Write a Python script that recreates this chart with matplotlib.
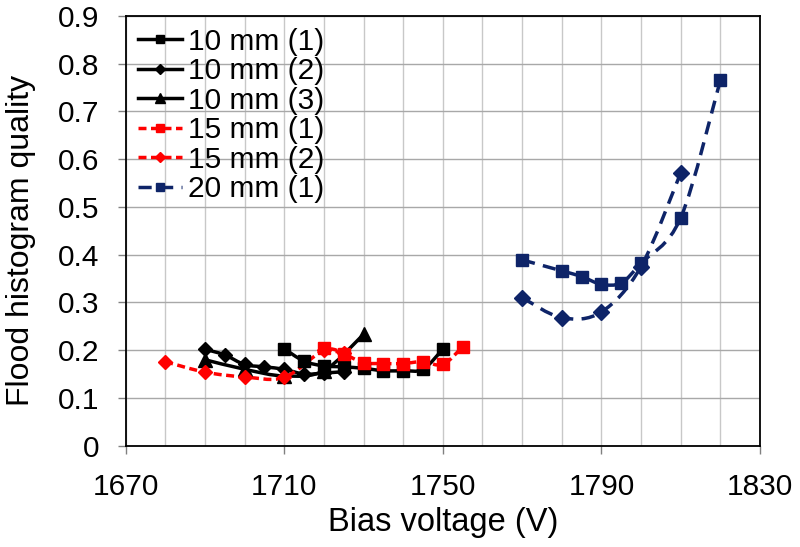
import matplotlib
matplotlib.use("Agg")
import matplotlib.pyplot as plt
import numpy as np
from matplotlib.path import Path
from matplotlib.patches import PathPatch
from matplotlib.lines import Line2D

plt.rcParams['font.family'] = ['Liberation Sans', 'DejaVu Sans']

# ---- data ----
v_10mm_1 = [1710, 1715, 1720, 1725, 1730, 1735, 1740, 1745, 1750]
q_10mm_1 = [0.203, 0.177, 0.167, 0.165, 0.162, 0.157, 0.157, 0.160, 0.202]

v_10mm_2 = [1690, 1695, 1700, 1705, 1710, 1715, 1720, 1725]
q_10mm_2 = [0.202, 0.190, 0.170, 0.165, 0.160, 0.150, 0.152, 0.155]

v_10mm_3 = [1690, 1700, 1710, 1720, 1730]
q_10mm_3 = [0.180, 0.160, 0.146, 0.157, 0.233]

v_15mm_1 = [1720, 1725, 1730, 1735, 1740, 1745, 1750, 1755]
q_15mm_1 = [0.205, 0.192, 0.174, 0.172, 0.172, 0.176, 0.170, 0.207]

v_15mm_2 = [1680, 1690, 1700, 1710, 1720, 1725]
q_15mm_2 = [0.176, 0.154, 0.144, 0.143, 0.200, 0.193]

v_20mm_1 = [1770, 1780, 1785, 1790, 1795, 1800, 1810, 1820]
q_20mm_1 = [0.389, 0.366, 0.354, 0.338, 0.341, 0.382, 0.477, 0.765]

v_20mm_2 = [1770, 1780, 1790, 1800, 1810]
q_20mm_2 = [0.310, 0.268, 0.280, 0.375, 0.571]

x_ticks = [1670, 1710, 1750, 1790, 1830]
y_ticks = [0, 0.1, 0.2, 0.3, 0.4, 0.5, 0.6, 0.7, 0.8, 0.9]

BLACK = '#000000'
RED = '#FF0000'
NAVY = '#0E2468'


def smooth_path(xs, ys):
    """Excel-style smoothed line (Catmull-Rom Bezier) through the data points."""
    p = np.column_stack([xs, ys]).astype(float)
    n = len(p)
    verts = [p[0]]
    codes = [Path.MOVETO]
    for i in range(n - 1):
        p0 = p[i - 1] if i > 0 else p[i]
        p1 = p[i]
        p2 = p[i + 1]
        p3 = p[i + 2] if i + 2 < n else p[i + 1]
        c1 = p1 + (p2 - p0) / 6.0
        c2 = p2 - (p3 - p1) / 6.0
        verts += [c1, c2, p2]
        codes += [Path.CURVE4] * 3
    return Path(verts, codes)


fig = plt.figure(figsize=(8.0, 5.47), dpi=100)
ax = fig.add_axes([0.157, 0.1852, 0.793, 0.786])

series = [
    (v_10mm_1, q_10mm_1, BLACK, '-', 's', 8.0, '10 mm (1)', True),
    (v_10mm_2, q_10mm_2, BLACK, '-', 'D', 7.5, '10 mm (2)', True),
    (v_10mm_3, q_10mm_3, BLACK, '-', '^', 9.5, '10 mm (3)', True),
    (v_15mm_1, q_15mm_1, RED, (0, (2.3, 1.3)), 's', 8.0, '15 mm (1)', True),
    (v_15mm_2, q_15mm_2, RED, (0, (2.3, 1.3)), 'D', 7.5, '15 mm (2)', True),
    (v_20mm_1, q_20mm_1, NAVY, (0, (3.8, 2.4)), 's', 8.5, '20 mm (1)', True),
    (v_20mm_2, q_20mm_2, NAVY, (0, (3.8, 2.4)), 'D', 8.0, '20 mm (2)', False),
]

handles = []
for xs, ys, col, ls, mk, ms, lab, inleg in series:
    patch = PathPatch(smooth_path(xs, ys), facecolor='none', edgecolor=col,
                      linewidth=2.5, linestyle=ls, zorder=3, capstyle='butt')
    ax.add_patch(patch)
    ax.plot(xs, ys, linestyle='none', marker=mk, markersize=ms, color=col,
            markeredgecolor=col, zorder=4)
    if inleg:
        handles.append(Line2D([], [], color=col, linestyle=ls, linewidth=2.5,
                              marker=mk, markersize=ms * 0.7, label=lab))

ax.set_xlim(1670, 1830)
ax.set_ylim(0, 0.9)
ax.set_xticks(x_ticks)
ax.set_xticklabels([str(t) for t in x_ticks])
ax.set_xticks(np.arange(1670, 1831, 10), minor=True)
ax.set_yticks(y_ticks)
ax.set_yticklabels(['0'] + ['%.1f' % t for t in y_ticks[1:]])

ax.grid(True, which='both', axis='x', color='#C8C8C8', linewidth=1.0, zorder=0)
ax.grid(True, which='major', axis='y', color='#A8A8A8', linewidth=1.0, zorder=0)
ax.set_axisbelow(True)

ax.tick_params(axis='both', which='major', labelsize=21.5, length=6, width=1,
               color='#808080', direction='out')
ax.tick_params(axis='x', which='minor', length=0)
ax.tick_params(axis='x', which='major', pad=13.5)
ax.tick_params(axis='y', which='major', pad=13.0)

for s in ax.spines.values():
    s.set_color('#000000')
    s.set_linewidth(1.3)

ax.set_xlabel('Bias voltage (V)', fontsize=23.5)
ax.xaxis.set_label_coords(0.5, -0.1426)
ax.set_ylabel('Flood histogram quality', fontsize=23)
ax.yaxis.set_label_coords(-0.1406, 0.478)

leg = ax.legend(handles=handles, loc='upper left', frameon=False,
                fontsize=21.5, handlelength=1.5, handletextpad=0.2,
                labelspacing=0.05, borderaxespad=0.3, borderpad=0.1)

fig.savefig('out.png', dpi=100)
